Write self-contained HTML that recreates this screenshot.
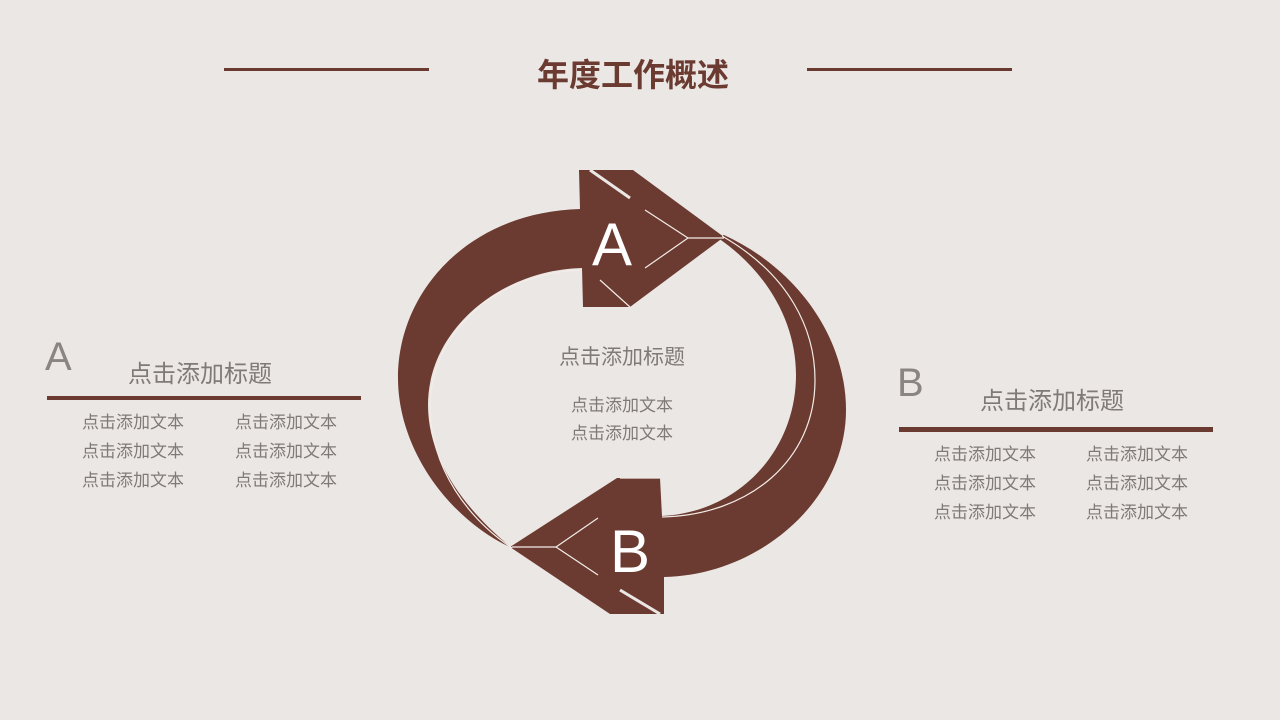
<!DOCTYPE html>
<html><head><meta charset="utf-8"><style>
body{margin:0;width:1280px;height:720px;background:#ebe7e4;position:relative;overflow:hidden;font-family:"Liberation Sans","Noto Sans CJK SC",sans-serif;}
.t{position:absolute;white-space:nowrap;color:#7f7a78;}
.hl{position:absolute;background:#6b3a30;}
</style></head><body>
<div class="hl" style="left:224px;top:68px;width:205px;height:3px"></div>
<div class="hl" style="left:807px;top:68px;width:205px;height:3px"></div>
<div class="t" style="left:537px;top:50px;font-size:32px;font-weight:bold;color:#6b3a30">年度工作概述</div>

<svg style="position:absolute;left:0;top:0" width="1280" height="720">
<path fill="#6b3a30" d="M580 209 C470 212,398 290,398 378 C398 450,450 520,512 548 C465 510,428 460,428 405 C428 330,500 270,582 268 L583 307 L630 307 L724 237 L633 170 L579 170 Z"/>
<path fill="#6b3a30" d="M724 235 C800 270,846 340,846 410 C846 500,760 575,664 577 L664 614 L610 614 L510 547 L617 478 L660 478 L662 516 C740 512,796 450,796 375 C796 320,765 270,718 238 Z"/>
<g stroke="#f3ece8" stroke-width="1.2" fill="none">
<path d="M580 270 C490 275,432 335,430 405 C430 470,470 520,512 548"/>
<path d="M722 236 C790 275,815 330,815 380 C815 460,750 515,662 517"/>
<path d="M688 238 L724 238"/><path d="M688 238 L645 210"/><path d="M688 238 L645 268"/><path d="M630 307 L600 280"/>
<path d="M512 547 L556 547"/><path d="M556 547 L598 575"/><path d="M556 547 L598 518"/><path d="M620 478 L660 478"/>
<path d="M590 170 L630 198" stroke-width="3" stroke="#ebe7e4"/>
<path d="M620 590 L660 614" stroke-width="3" stroke="#ebe7e4"/>
</g>
<text x="612" y="265" fill="#fff" font-size="60" text-anchor="middle" font-family="Liberation Sans">A</text>
<text x="630" y="572" fill="#fff" font-size="60" text-anchor="middle" font-family="Liberation Sans">B</text>
</svg>

<div class="t" style="left:559px;top:341px;font-size:21px">点击添加标题</div>
<div class="t" style="left:571px;top:392px;font-size:17px;line-height:28px">点击添加文本<br>点击添加文本</div>

<div class="t" style="left:45px;top:335px;font-size:40px;color:#8a8583">A</div>
<div class="t" style="left:128px;top:354px;font-size:24px">点击添加标题</div>
<div class="hl" style="left:47px;top:396px;width:314px;height:4px"></div>
<div class="t" style="left:82px;top:408px;font-size:17px;line-height:29px">点击添加文本<br>点击添加文本<br>点击添加文本</div>
<div class="t" style="left:235px;top:408px;font-size:17px;line-height:29px">点击添加文本<br>点击添加文本<br>点击添加文本</div>

<div class="t" style="left:897px;top:361px;font-size:40px;color:#8a8583">B</div>
<div class="t" style="left:980px;top:381px;font-size:24px">点击添加标题</div>
<div class="hl" style="left:899px;top:427px;width:314px;height:5px"></div>
<div class="t" style="left:934px;top:440px;font-size:17px;line-height:29px">点击添加文本<br>点击添加文本<br>点击添加文本</div>
<div class="t" style="left:1086px;top:440px;font-size:17px;line-height:29px">点击添加文本<br>点击添加文本<br>点击添加文本</div>
</body></html>
